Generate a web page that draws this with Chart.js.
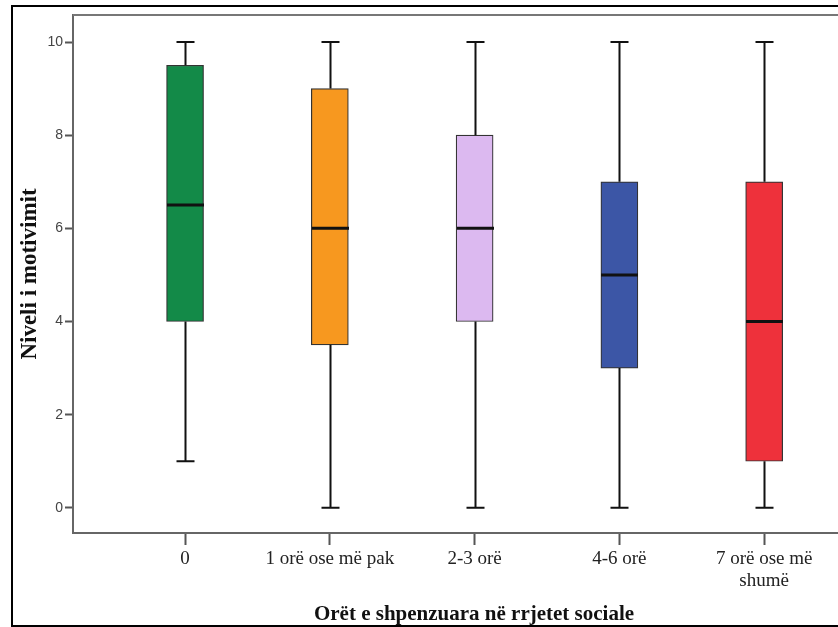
<!DOCTYPE html>
<html>
<head>
<meta charset="utf-8">
<script src="https://cdn.jsdelivr.net/npm/chart.js@4/dist/chart.umd.min.js"></script>
<style>
  html, body { margin: 0; padding: 0; background: #fff; overflow: hidden; }
  #wrap { position: relative; width: 838px; height: 627px; }
  #c { position: absolute; left: 0; top: 0; }
  #frame { position: absolute; left: 11px; top: 5px; width: 900px; height: 618px;
           border: 2px solid #000; pointer-events: none; }
</style>
</head>
<body>
<div id="wrap">
  <canvas id="c" width="838" height="627"></canvas>
  <div id="frame"></div>
</div>
<script>
// ---- data ----
const categories = ["0", "1 orë ose më pak", "2-3 orë", "4-6 orë", ["7 orë ose më", "shumë"]];
const whiskerMin = [1, 0, 0, 0, 0];
const quartile1  = [4, 3.5, 4, 3, 1];
const medians    = [6.5, 6, 6, 5, 4];
const quartile3  = [9.5, 9, 8, 7, 7];
const whiskerMax = [10, 10, 10, 10, 10];
const yTicks     = [0, 2, 4, 6, 8, 10];
const boxColors  = ["#138a48", "#f7981f", "#dcb9f0", "#3c56a6", "#ee313b"];
const yTitle = "Niveli i motivimit";
const xTitle = "Orët e shpenzuara në rrjetet sociale";

const boxData = categories.map((c, i) => ({ x: i, y: [quartile1[i], quartile3[i]] }));

const BOX_W = 37;
const CAP_W = 18;

const boxPlugin = {
  id: 'boxExtras',
  afterDatasetsDraw(chart) {
    const ctx = chart.ctx;
    const xs = chart.scales.x, ys = chart.scales.y;
    const area = chart.chartArea;
    ctx.save();
    // top frame line
    ctx.strokeStyle = '#777';
    ctx.lineWidth = 2;
    ctx.beginPath();
    ctx.moveTo(area.left, area.top);
    ctx.lineTo(area.right, area.top);
    ctx.stroke();

    ctx.strokeStyle = '#111';
    categories.forEach((c, i) => {
      const x = Math.round(xs.getPixelForValue(i)) + 0.5;
      const yMin = ys.getPixelForValue(whiskerMin[i]);
      const yQ1 = ys.getPixelForValue(quartile1[i]);
      const yQ3 = ys.getPixelForValue(quartile3[i]);
      const yMax = ys.getPixelForValue(whiskerMax[i]);
      const yMed = ys.getPixelForValue(medians[i]);
      ctx.lineWidth = 2;
      ctx.beginPath();
      ctx.moveTo(x, yMax); ctx.lineTo(x, yQ3);
      ctx.moveTo(x, yQ1); ctx.lineTo(x, yMin);
      ctx.moveTo(x - CAP_W / 2, yMax); ctx.lineTo(x + CAP_W / 2, yMax);
      ctx.moveTo(x - CAP_W / 2, yMin); ctx.lineTo(x + CAP_W / 2, yMin);
      ctx.stroke();
      ctx.lineWidth = 3;
      ctx.beginPath();
      ctx.moveTo(x - BOX_W / 2, yMed); ctx.lineTo(x + BOX_W / 2, yMed);
      ctx.stroke();
    });

    // x axis title
    ctx.fillStyle = '#111';
    ctx.font = 'bold 21px "Liberation Serif", "Times New Roman", serif';
    ctx.textAlign = 'center';
    ctx.textBaseline = 'alphabetic';
    ctx.fillText(xTitle, 474, 620);
    ctx.restore();
  }
};

new Chart(document.getElementById('c'), {
  type: 'bar',
  data: {
    datasets: [{
      data: boxData,
      backgroundColor: boxColors,
      borderColor: '#333',
      borderWidth: 1.2,
      borderSkipped: false,
      barThickness: BOX_W
    }]
  },
  options: {
    responsive: false,
    animation: false,
    events: [],
    layout: { padding: { left: 12, top: 15, right: 0, bottom: 0 } },
    plugins: { legend: { display: false }, tooltip: { enabled: false }, title: { display: false } },
    scales: {
      x: {
        type: 'linear',
        offset: false,
        min: -0.774,
        max: 4.51,
        afterBuildTicks(scale) { scale.ticks = categories.map((c, i) => ({ value: i })); },
        afterFit(scale) { scale.height = 94; },
        ticks: {
          autoSkip: false,
          maxRotation: 0,
          padding: 3,
          color: '#222',
          font: { family: '"Liberation Serif", "Times New Roman", serif', size: 19, lineHeight: 1.15 },
          callback: (v) => categories[v]
        },
        grid: { offset: false, drawOnChartArea: false, drawTicks: true, tickLength: 12, color: '#555', tickWidth: 2 },
        border: { display: true, color: '#666', width: 2 }
      },
      y: {
        min: -0.54,
        max: 10.58,
        afterBuildTicks(scale) { scale.ticks = yTicks.map(v => ({ value: v })); },
        afterFit(scale) { scale.width = 61; },
        ticks: {
          padding: 2,
          color: '#444',
          font: { family: '"Liberation Sans", Arial, sans-serif', size: 14 }
        },
        grid: { drawOnChartArea: false, drawTicks: true, tickLength: 8, color: '#555', tickWidth: 2 },
        border: { display: true, color: '#666', width: 2 },
        title: {
          display: true,
          text: yTitle,
          color: '#111',
          padding: { top: 4, bottom: 4 },
          font: { family: '"Liberation Serif", "Times New Roman", serif', size: 23, weight: 'bold' }
        }
      }
    }
  },
  plugins: [boxPlugin]
});
</script>
</body>
</html>
